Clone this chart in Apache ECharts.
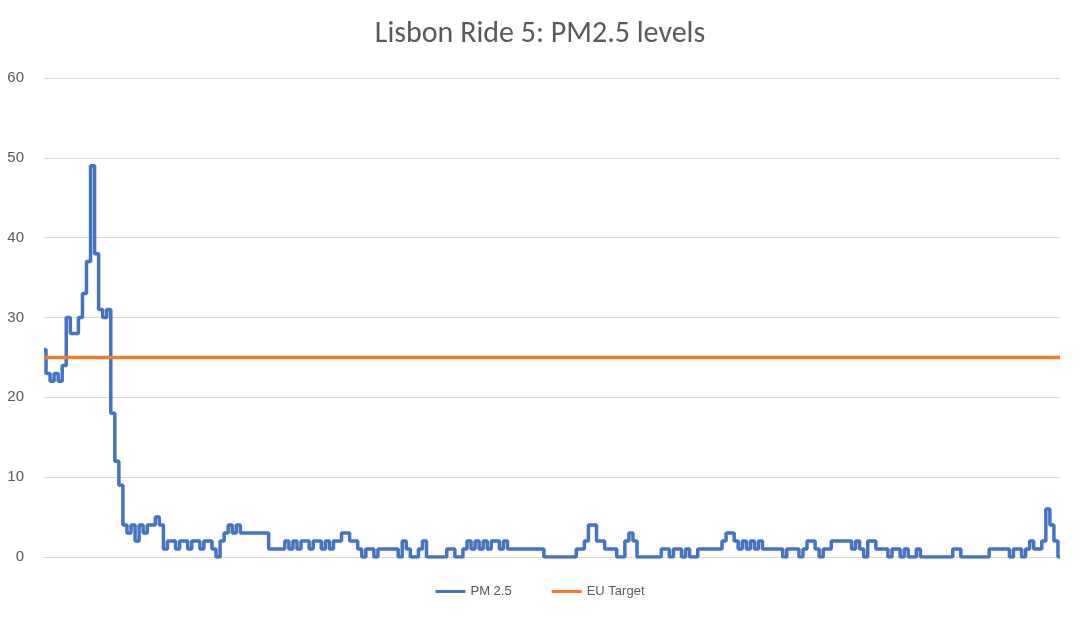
<!DOCTYPE html>
<html><head><meta charset="utf-8">
<script src="https://cdn.jsdelivr.net/npm/echarts@6/dist/echarts.min.js"></script>
<style>html,body{margin:0;padding:0;background:#fff}#c{width:1080px;height:621px}</style>
</head><body><div id="c"></div>
<script>
const pm25 = [
26,23,22,23,22,24,30,28,28,30,
33,37,49,38,31,30,31,18,12,9,
4,3,4,2,4,3,4,4,5,4,
1,2,2,1,2,2,1,2,2,1,
2,2,1,0,2,3,4,3,4,3,
3,3,3,3,3,3,1,1,1,1,
2,1,2,1,2,2,1,2,2,1,
2,1,2,2,3,3,2,2,1,0,
1,1,0,1,1,1,1,1,0,2,
1,0,0,1,2,0,0,0,0,0,
1,1,0,0,1,2,1,2,1,2,
1,2,2,1,2,1,1,1,1,1,
1,1,1,1,0,0,0,0,0,0,
0,0,1,1,2,4,4,2,2,1,
1,1,0,0,2,3,2,0,0,0,
0,0,0,1,1,0,1,1,0,1,
0,0,1,1,1,1,1,1,2,3,
3,2,1,2,1,2,1,2,1,1,
1,1,1,0,1,1,1,0,1,2,
2,1,0,1,1,2,2,2,2,2,
1,2,1,0,2,2,1,1,1,0,
1,1,0,1,0,0,1,0,0,0,
0,0,0,0,0,1,1,0,0,0,
0,0,0,0,1,1,1,1,1,0,
1,1,0,1,2,1,1,2,6,4,
2,0];
const euTarget = pm25.map(() => 25);
const categories = pm25.map((_, i) => i + 1);
const chart = echarts.init(document.getElementById('c'));
const lineIcon = 'path://M0,0 L30,0 L30,3 L0,3Z';
chart.setOption({
  animation:false,
  title:{text:'Lisbon Ride 5: PM2.5 levels',left:'center',top:14,textStyle:{fontFamily:'Calibri, Carlito, Liberation Sans, sans-serif',fontSize:30,fontWeight:'normal',color:'#595959'}},
  legend:{bottom:18,itemWidth:30,itemHeight:3,itemGap:40,textStyle:{color:'#595959',fontSize:13},
    data:[{name:'PM 2.5',icon:lineIcon},{name:'EU Target',icon:lineIcon}]},
  grid:{left:44,right:20,top:78,bottom:64},
  xAxis:{type:'category',data:categories,boundaryGap:false,axisLabel:{show:false},axisTick:{show:false},
    axisLine:{lineStyle:{color:'#d9d9d9'}}},
  yAxis:{type:'value',min:0,max:60,interval:10,axisLabel:{color:'#595959',fontSize:15,margin:20},
    splitLine:{lineStyle:{color:'#d9d9d9'}},axisLine:{show:false}},
  series:[
    {name:'PM 2.5',type:'line',step:'middle',data:pm25,symbol:'none',lineStyle:{color:'#4472C4',width:3.5},itemStyle:{color:'#4472C4'}},
    {name:'EU Target',type:'line',data:euTarget,symbol:'none',lineStyle:{color:'#ED7D31',width:3.5},itemStyle:{color:'#ED7D31'}}
  ]
});
</script></body></html>
